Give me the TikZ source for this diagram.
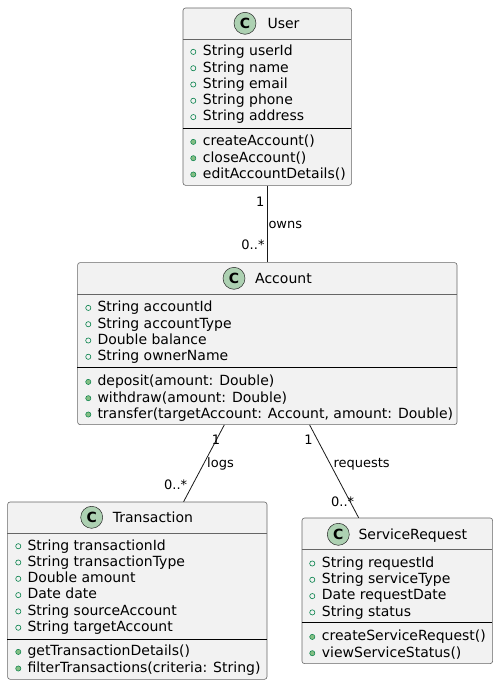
\documentclass[tikz,border=0pt]{standalone}
\usepackage{fontspec}
\setmainfont{DejaVu Sans}
\newfontfamily\boldc{DejaVu Sans Bold}
\begin{document}
\begin{tikzpicture}[x=1pt,y=-1pt,
  classbox/.style={draw=black!60, line width=0.6pt, fill=gray!10!white, rounded corners=2.5pt, inner sep=0, anchor=north west},
  hline/.style={draw=black!60, line width=0.6pt},
  sepline/.style={draw=black, line width=0.9pt},
  icon/.style={circle, draw=black!85, line width=0.5pt, fill={rgb,255:red,173;green,209;blue,178}, minimum size=22pt, inner sep=0, font=\boldc\fontsize{14}{14}\selectfont},
  ttl/.style={anchor=base west, inner sep=0, font=\fontsize{14}{16}\selectfont},
  mem/.style={anchor=base west, inner sep=0, font=\fontsize{14}{16}\selectfont},
  attrdot/.style={draw={rgb,255:red,3;green,128;blue,72}, line width=0.6pt},
  methdot/.style={draw={rgb,255:red,3;green,128;blue,72}, fill={rgb,255:red,132;green,190;blue,132}, line width=0.5pt},
  lbl/.style={inner sep=0, font=\fontsize{13}{15}\selectfont},
  edge/.style={draw=black!90, line width=0.8pt}
]
\useasboundingbox (0,0) rectangle (498,685);

% ---------------- User ----------------
\node[classbox, minimum width=168.6pt, minimum height=177.3pt] (user) at (182.7,7.7) {};
\draw[hline] (182.7,39) -- (351.3,39);
\draw[sepline] (182.7,128.3) -- (351.3,128.3);
\node[icon] (usericon) at (245,23.3) {C};
\node[ttl] (usertitle) at (267.3,28.3) {User};
\foreach \yy/\tt [count=\i] in {55.7/String userId,72.0/String name,88.3/String email,104.6/String phone,120.9/String address}{
  \draw[attrdot] (193.3,\yy-3.8) circle (2.6pt);
  \node[mem] (ua\i) at (202.7,\yy) {\tt};
}
\foreach \yy/\tt [count=\i] in {145.7/createAccount(),162.0/closeAccount(),178.3/editAccountDetails()}{
  \draw[methdot] (193.3,\yy-3.8) circle (2.6pt);
  \node[mem] (um\i) at (202.7,\yy) {\tt};
}

% ---------------- Account ----------------
\node[classbox, minimum width=379.4pt, minimum height=162pt] (account) at (77.3,262.3) {};
\draw[hline] (77.3,294.3) -- (456.7,294.3);
\draw[sepline] (77.3,367.3) -- (456.7,367.3);
\node[icon] (accicon) at (234,278.3) {C};
\node[ttl] (acctitle) at (255,283.3) {Account};
\foreach \yy/\tt [count=\i] in {311.7/String accountId,328.0/String accountType,344.3/Double balance,360.6/String ownerName}{
  \draw[attrdot] (88.3,\yy-3.8) circle (2.6pt);
  \node[mem] (aa\i) at (97.3,\yy) {\tt};
}
\foreach \yy/\tt [count=\i] in {385.7/{deposit(amount: Double)},402.0/{withdraw(amount: Double)},418.3/{transfer(targetAccount: Account, amount: Double)}}{
  \draw[methdot] (88.3,\yy-3.8) circle (2.6pt);
  \node[mem] (am\i) at (97.3,\yy) {\tt};
}

% ---------------- Transaction ----------------
\node[classbox, minimum width=259.4pt, minimum height=177.3pt] (transaction) at (7.3,501.7) {};
\draw[hline] (7.3,533.3) -- (266.7,533.3);
\draw[sepline] (7.3,639.3) -- (266.7,639.3);
\node[icon] (tricon) at (91.7,517.3) {C};
\node[ttl] (trtitle) at (112.7,522.3) {Transaction};
\foreach \yy/\tt [count=\i] in {550.0/String transactionId,566.3/String transactionType,582.6/Double amount,598.9/Date date,615.2/String sourceAccount,631.5/String targetAccount}{
  \draw[attrdot] (18.3,\yy-3.8) circle (2.6pt);
  \node[mem] (ta\i) at (27.3,\yy) {\tt};
}
\foreach \yy/\tt [count=\i] in {655.7/getTransactionDetails(),672.3/{filterTransactions(criteria: String)}}{
  \draw[methdot] (18.3,\yy-3.8) circle (2.6pt);
  \node[mem] (tm\i) at (27.3,\yy) {\tt};
}

% ---------------- ServiceRequest ----------------
\node[classbox, minimum width=190.6pt, minimum height=145.6pt] (service) at (301.7,517.7) {};
\draw[hline] (301.7,549.3) -- (492.3,549.3);
\draw[sepline] (301.7,622.3) -- (492.3,622.3);
\node[icon] (sricon) at (338.3,534.3) {C};
\node[ttl] (srtitle) at (358.3,539.3) {ServiceRequest};
\foreach \yy/\tt [count=\i] in {567.3/String requestId,583.6/String serviceType,599.9/Date requestDate,616.2/String status}{
  \draw[attrdot] (312.3,\yy-3.8) circle (2.6pt);
  \node[mem] (sa\i) at (321.7,\yy) {\tt};
}
\foreach \yy/\tt [count=\i] in {640.7/createServiceRequest(),657.0/viewServiceStatus()}{
  \draw[methdot] (312.3,\yy-3.8) circle (2.6pt);
  \node[mem] (sm\i) at (321.7,\yy) {\tt};
}

% ---------------- Connectors ----------------
\draw[edge] (user.south) -- (account.north);
\draw[edge] ([xshift=-43pt]account.south) -- ([xshift=46.3pt]transaction.north);
\draw[edge] ([xshift=42.3pt]account.south) -- ([xshift=-38.7pt]service.north);

\node[lbl, anchor=base east] (l1) at (264.5,206.5) {1};
\node[lbl, anchor=base west] (l2) at (268.3,228.5) {owns};
\node[lbl, anchor=base east] (l3) at (264.7,249.5) {0..*};

\node[lbl, anchor=base] (l4) at (216,444.5) {1};
\node[lbl, anchor=base west] (l5) at (207,467.8) {logs};
\node[lbl, anchor=base west] (l6) at (164,489.5) {0..*};

\node[lbl, anchor=base] (l7) at (308.5,444.5) {1};
\node[lbl, anchor=base west] (l8) at (333.3,467.8) {requests};
\node[lbl, anchor=base west] (l9) at (331,506.2) {0..*};
\end{tikzpicture}
\end{document}
